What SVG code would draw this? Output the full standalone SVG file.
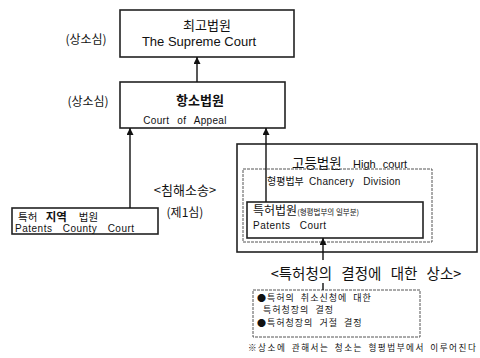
<svg xmlns="http://www.w3.org/2000/svg" width="480" height="358" viewBox="0 0 480 358">
<style>
text{font-family:"Liberation Sans","Noto Sans CJK KR",sans-serif;fill:#111}
.ko{font-family:"Noto Sans CJK KR","Liberation Sans",sans-serif}
.box{fill:#fff;stroke:#222;stroke-width:1.6}
.thin{fill:none;stroke:#555;stroke-width:1;stroke-dasharray:3 1}
.line{stroke:#111;stroke-width:1.4;fill:none}
</style>
<defs>
<marker id="ah" viewBox="0 0 10 10" refX="10" refY="5" markerWidth="10" markerHeight="7" orient="auto" markerUnits="userSpaceOnUse">
<path d="M0,0 L10,5 L0,10 z" fill="#111"/>
</marker>
</defs>
<rect x="0" y="0" width="480" height="358" fill="#fff"/>
<g id="supreme">
<rect class="box" x="120" y="10" width="174" height="47"/>
<text class="ko" x="207" y="30" font-size="13" text-anchor="middle">최고법원</text>
<text x="199" y="46" font-size="13" text-anchor="middle">The Supreme Court</text>
<text class="ko" x="86" y="44" font-size="12" text-anchor="middle">(상소심)</text>
</g>
<g id="appeal">
<rect class="box" x="120" y="82" width="165" height="46"/>
<text class="ko" x="200" y="105" font-size="13" font-weight="bold" text-anchor="middle">항소법원</text>
<text x="185" y="124" font-size="10" text-anchor="middle" word-spacing="5" letter-spacing="0.3">Court of Appeal</text>
<text class="ko" x="88" y="106" font-size="12" text-anchor="middle">(상소심)</text>
</g>
<g id="county">
<rect class="box" x="12" y="208" width="146" height="26"/>
<text class="ko" x="18" y="221" font-size="10.5"><tspan>특허 </tspan><tspan font-weight="bold" font-size="11.5" dx="6">지역</tspan><tspan dx="12">법원</tspan></text>
<text x="15" y="232" font-size="10" word-spacing="7" letter-spacing="0.5">Patents County Court</text>
</g>
<g id="infringement-label">
<text class="ko" x="185" y="195" font-size="13" text-anchor="middle">&lt;침해소송&gt;</text>
<text class="ko" x="185" y="217" font-size="12" text-anchor="middle">(제1심)</text>
</g>
<g id="high-court">
<rect class="box" x="237" y="144" width="240" height="108"/>
<text class="ko" x="292" y="168" font-size="13.5">고등법원</text>
<text x="353" y="168" font-size="11" word-spacing="4">High court</text>
</g>
<g id="chancery">
<rect class="thin" x="243" y="169" width="189" height="73"/>
<text class="ko" x="267" y="185" font-size="10">형평법부 <tspan font-family="Liberation Sans" dx="3" word-spacing="6" letter-spacing="0.3">Chancery Division</tspan></text>
</g>
<g id="patents-court">
<rect class="box" x="247" y="202" width="176" height="36" stroke-width="1.3"/>
<text class="ko" x="253" y="215" font-size="12">특허법원<tspan font-size="7.5">(형평법부의 일부분)</tspan></text>
<text x="253" y="229" font-size="10" word-spacing="6" letter-spacing="0.5">Patents Court</text>
</g>
<g id="appeal-label">
<text class="ko" x="366" y="279" font-size="14.5" text-anchor="middle" word-spacing="6">&lt;특허청의 결정에 대한 상소&gt;</text>
</g>
<g id="decisions">
<rect class="thin" x="253" y="290" width="167" height="47"/>
<text class="ko" x="257" y="301" font-size="9" letter-spacing="1" word-spacing="3">●특허의 취소신청에 대한</text>
<text class="ko" x="263" y="313" font-size="9" letter-spacing="1" word-spacing="3">특허청장의 결정</text>
<text class="ko" x="257" y="326" font-size="9" letter-spacing="1" word-spacing="3">●특허청장의 거절 결정</text>
</g>
<g id="footnote">
<text class="ko" x="248" y="351" font-size="8.6" letter-spacing="1.5" word-spacing="2">※상소에 관해서는 청소는 형평법부에서 이루어진다</text>
</g>
<g id="connectors">
<line class="line" x1="197" y1="82" x2="197" y2="57" marker-end="url(#ah)"/>
<line class="line" x1="130" y1="208" x2="130" y2="128" marker-end="url(#ah)"/>
<line class="line" x1="266" y1="202" x2="266" y2="128" marker-end="url(#ah)"/>
<line class="line" x1="323" y1="260" x2="323" y2="238" marker-end="url(#ah)"/>
<line class="line" x1="323" y1="283" x2="323" y2="290" stroke-width="1"/>
</g>
</svg>
